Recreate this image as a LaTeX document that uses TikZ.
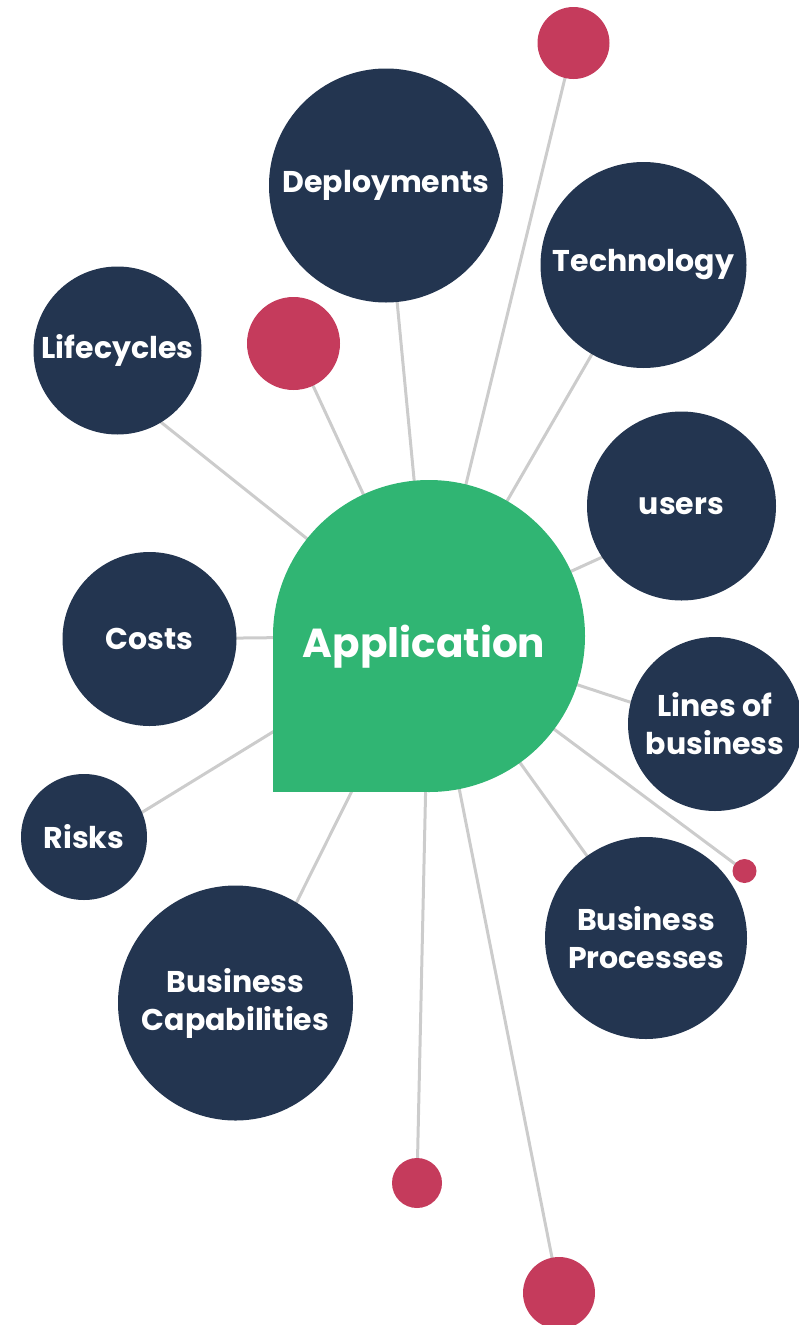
\documentclass[tikz,border=0pt]{standalone}
\usepackage{fontspec}
\setmainfont{Poppins}
\usetikzlibrary{backgrounds}
\definecolor{navy}{HTML}{233550}
\definecolor{appgreen}{HTML}{30B573}
\definecolor{dotred}{HTML}{C53B5C}
\definecolor{spoke}{HTML}{CCCCCC}
\begin{document}
\begin{tikzpicture}[x=1pt,y=-1pt,
  bubble/.style={circle,fill=navy,inner sep=0pt,text=white,align=center,
    font=\bfseries\fontsize{30}{38}\selectfont},
  dot/.style={circle,fill=dotred,inner sep=0pt},
  spokeline/.style={draw=spoke,line width=3pt}]
  \useasboundingbox (0,0) rectangle (798,1325);
%%
  % Node: Application
  \coordinate (app) at (429,636);
  \fill [appgreen] (app) circle (156pt);
  \fill [appgreen] (273,636) rectangle (429,792);
  \node [anchor=base,text=white,font=\bfseries\fontsize{40.5}{48}\selectfont] (applabel) at (424,657) {Application};
  % Node: Deployments
  \node [bubble,minimum size=234pt] (deploy) at (386,185.5) {Deployments};
  % Node: Technology
  \node [bubble,minimum size=206pt] (tech) at (643.5,265) {Technology};
  % Node: Lifecycles
  \node [bubble,minimum size=168pt] (life) at (117.5,350.5) {Lifecycles};
  % Node: users
  \node [bubble,minimum size=189pt] (users) at (681.5,506) {users};
  % Node: Costs
  \node [bubble,minimum size=174pt] (costs) at (149.5,639) {Costs};
  % Node: Lines of business
  \node [bubble,minimum size=174pt] (lob) at (715,724) {Lines of\\business};
  % Node: Risks
  \node [bubble,minimum size=126pt] (risks) at (84,837) {Risks};
  % Node: Business Capabilities
  \node [bubble,minimum size=235pt] (bizcap) at (235.5,1003) {Business\\Capabilities};
  % Node: Business Processes
  \node [bubble,minimum size=202pt] (bizproc) at (646,938) {Business\\Processes};
  % Red dots
  \node [dot,minimum size=72pt] (dottop) at (573.5,43) {};
  \node [dot,minimum size=93pt] (dotleft) at (293.5,343.5) {};
  \node [dot,minimum size=24pt] (dotright) at (744.5,871) {};
  \node [dot,minimum size=50pt] (dotlow) at (417,1183) {};
  \node [dot,minimum size=72pt] (dotbottom) at (559,1293) {};
%
  \begin{pgfonlayer}{background}
  % Edge: Application -> Deployments
  \draw [spokeline] (app) -- (deploy.center);
  % Edge: Application -> dot (top)
  \draw [spokeline] (app) -- (dottop.center);
  % Edge: Application -> Technology
  \draw [spokeline] (app) -- (tech.center);
  % Edge: Application -> dot (left)
  \draw [spokeline] (app) -- (dotleft.center);
  % Edge: Application -> Lifecycles
  \draw [spokeline] (app) -- ([yshift=-37pt]life.center);
  % Edge: Application -> users
  \draw [spokeline] (app) -- ([yshift=-15pt]users.center);
  % Edge: Application -> Costs
  \draw [spokeline] (app) -- (costs.center);
  % Edge: Application -> Lines of business
  \draw [spokeline] (app) -- ([yshift=-6pt]lob.center);
  % Edge: Application -> Risks
  \draw [spokeline] (app) -- ([yshift=-11pt]risks.center);
  % Edge: Application -> Business Capabilities
  \draw [spokeline] (app) -- ([xshift=11pt]bizcap.center);
  % Edge: Application -> Business Processes
  \draw [spokeline] (app) -- (bizproc.center);
  % Edge: Application -> dot (right)
  \draw [spokeline] (app) -- (dotright.center);
  % Edge: Application -> dot (low)
  \draw [spokeline] (app) -- (dotlow.center);
  % Edge: Application -> dot (bottom)
  \draw [spokeline] (app) -- (dotbottom.center);
  \end{pgfonlayer}
%
\end{tikzpicture}
\end{document}
